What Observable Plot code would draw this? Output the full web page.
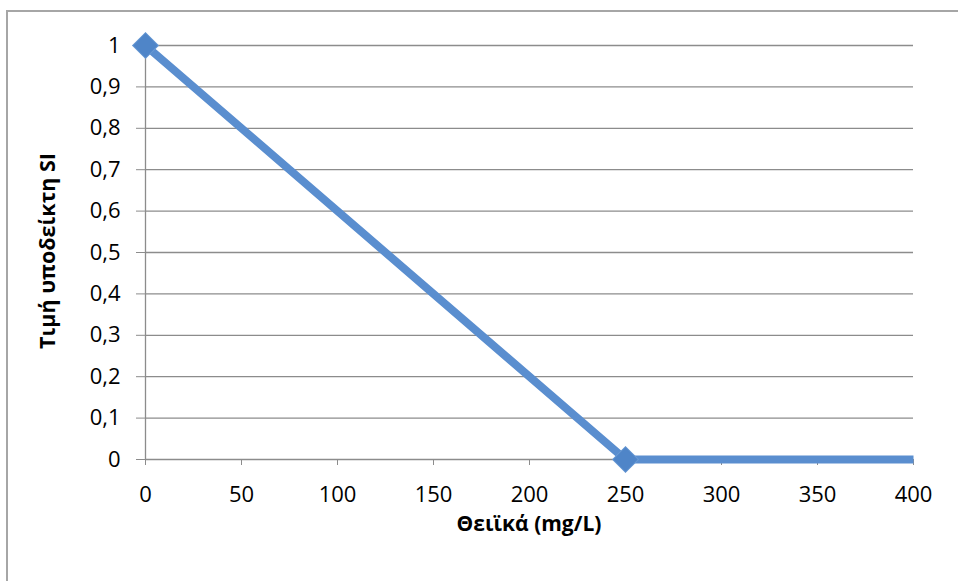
<!DOCTYPE html>
<html>
<head>
<meta charset="utf-8">
<script src="https://cdn.jsdelivr.net/npm/d3@7"></script>
<script src="https://cdn.jsdelivr.net/npm/@observablehq/plot@0.6"></script>
<style>
  html, body { margin: 0; padding: 0; background: #fff; }
  #chart { position: relative; width: 958px; height: 581px; overflow: hidden; }
  #frame { position: absolute; left: 6px; top: 10px; width: 1000px; height: 700px;
           border-left: 2px solid #a6a6a6; border-top: 2px solid #a6a6a6; box-sizing: border-box; }
  #chart svg { position: absolute; left: 0; top: 0; }
  #chart svg g[aria-label$="tick label"], #chart svg g[aria-label$="tick label"] text { font-size: 22px !important; }
</style>
</head>
<body>
<div id="chart"><div id="frame"></div></div>
<script>
// Sulfate concentration (mg/L) and the resulting SI sub-index value
const sulfate = [0, 250, 400];
const subIndex = [1, 0, 0];
// Points drawn with a marker
const markedSulfate = [0, 250];
const markedIndex = [1, 0];

const xTicks = [0, 50, 100, 150, 200, 250, 300, 350, 400];
const yTicks = [0, 0.1, 0.2, 0.3, 0.4, 0.5, 0.6, 0.7, 0.8, 0.9, 1];

const xTitle = "Θειϊκά (mg/L)";
const yTitle = "Τιμή υποδείκτη SI";

const lineData = sulfate.map((x, i) => ({x, y: subIndex[i]}));
const markData = markedSulfate.map((x, i) => ({x, y: markedIndex[i]}));

const fmt = d => d === 0 || d === 1 ? String(d) : d.toFixed(1).replace(".", ",");

const blue = "#5a8ecf";
const font = "'Open Sans', sans-serif";

const plot = Plot.plot({
  width: 958,
  height: 581,
  marginLeft: 145,
  marginRight: 45,
  marginTop: 45,
  marginBottom: 122,
  style: {fontFamily: font, fontSize: "22px", color: "#000", background: "transparent", overflow: "visible"},
  x: {domain: [0, 400]},
  y: {domain: [0, 1]},
  marks: [
    Plot.gridY(yTicks, {stroke: "#8c8c8c", strokeOpacity: 1, strokeWidth: 1.3}),
    Plot.ruleX([0], {stroke: "#8c8c8c", strokeWidth: 1.3}),
    Plot.axisY(yTicks, {tickFormat: fmt, tickSize: 9, tickPadding: 16, stroke: "#8c8c8c", label: null, fontSize: 22}),
    Plot.axisX(xTicks, {tickSize: 6, tickPadding: 21, stroke: "#8c8c8c", label: null, fontSize: 22}),
    Plot.line(lineData, {x: "x", y: "y", stroke: blue, strokeWidth: 8, strokeLinecap: "butt", strokeLinejoin: "miter"}),
    Plot.dot(markData, {x: "x", y: "y", symbol: "square", r: 10.3, rotate: 45, fill: "#4f85c8", stroke: "#6a9ad4", strokeWidth: 1,
      style: "filter: drop-shadow(1px 2px 1.5px rgba(0,0,0,0.35))"})
  ]
});

const svg = d3.select(plot);
// Axis titles
svg.append("text")
  .attr("x", 529).attr("y", 531)
  .attr("text-anchor", "middle")
  .attr("font-weight", "bold").attr("font-size", 21)
  .attr("font-family", font)
  .text(xTitle);
svg.append("text")
  .attr("transform", "translate(55,251) rotate(-90)")
  .attr("text-anchor", "middle")
  .attr("font-weight", "bold").attr("font-size", 21.5)
  .attr("font-family", font)
  .text(yTitle);

document.getElementById("chart").appendChild(plot);
</script>
</body>
</html>
